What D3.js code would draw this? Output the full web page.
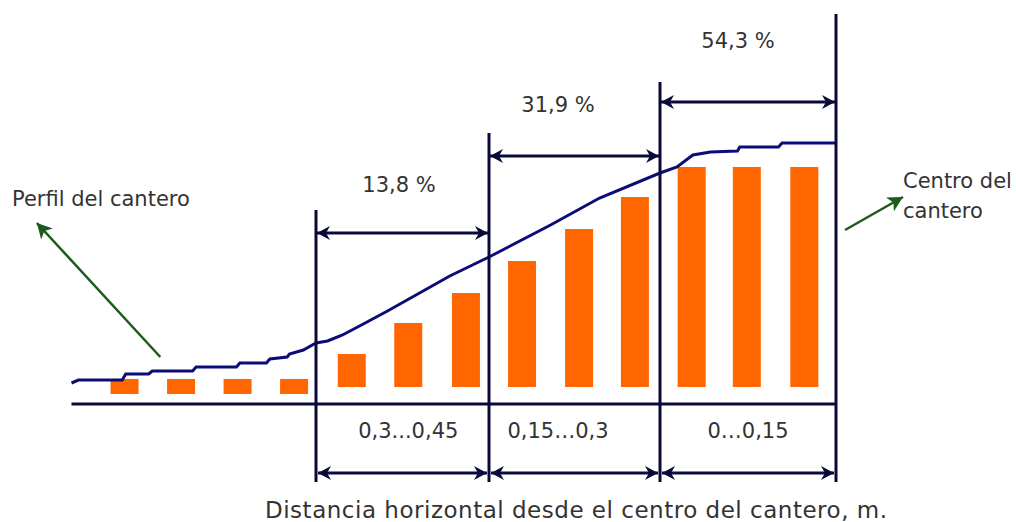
<!DOCTYPE html>
<html>
<head>
  <meta charset="utf-8">
  <script type="text/javascript" src="https://d3js.org/d3.v7.min.js"></script>
  <style>
    body { margin: 0; background: #ffffff; }
    #canvas { display: block; }
    text {
      font-family: "DejaVu Sans", Verdana, sans-serif;
      font-size: 21px;
      fill: #333333;
    }
    .axis-title { font-size: 23px; }
    .frame { fill: none; stroke: #0a0a3a; stroke-width: 3; }
    .profile { fill: none; stroke: #0c0c78; stroke-width: 3; }
    .bar { fill: #ff6600; }
    .pointer { fill: none; stroke: #1d5a1d; stroke-width: 2.5; }
  </style>
</head>
<body>
  <svg id="canvas" width="1016" height="522"></svg>
<script>
  // distances are metres from the centre of the bed, heights are relative units
  const sectionBounds = [0, 0.15, 0.3, 0.45];
  const sectionPct = ["54,3 %", "31,9 %", "13,8 %"];
  const sectionRange = ["0…0,15", "0,15…0,3", "0,3...0,45"];

  const barDist = [0.616, 0.567, 0.518, 0.469, 0.419, 0.370, 0.320, 0.271, 0.221, 0.172, 0.123, 0.076, 0.027];
  const barBase = [10, 10, 10, 10, 17, 17, 17, 17, 17, 17, 17, 17, 17];
  const barTop = [25, 25, 25, 25, 50, 81, 111, 143, 175, 207, 237, 237, 237];

  const profileDist = [0.662, 0.656, 0.618, 0.615, 0.595, 0.592, 0.557, 0.554, 0.519, 0.516, 0.493, 0.490,
                       0.475, 0.473, 0.461, 0.450, 0.440, 0.427, 0.409, 0.388, 0.334, 0.300, 0.246, 0.203,
                       0.150, 0.1355, 0.122, 0.107, 0.084, 0.082, 0.049, 0.046, 0];
  const profileHeight = [21, 24, 24, 30, 30, 33, 33, 37, 37, 41, 41, 45,
                         47, 50, 54, 61, 63, 69, 80, 93, 128, 147, 179, 206,
                         231, 237, 249, 252, 253, 257, 257, 261, 261];
  const groundStart = 0.662;

  const svg = d3.select("svg");

  const x = d3.scaleLinear()
    .domain(sectionBounds)
    .range([836, 660, 489, 316]);
  const y = d3.scaleLinear()
    .domain([0, 400])
    .range([404, 4]);

  // annotation layout, in the same units as the data
  const dividerTop = [390, 322, 271, 194];
  const dividerBottom = -78;
  const dimHeight = [302, 248, 171];
  const pctLabel = [{ d: 0.0835, h: 356 }, { d: 0.2395, h: 292 }, { d: 0.378, h: 212 }];
  const rangeLabel = [0.075, 0.2395, 0.370];
  const rangeLabelH = -34;
  const bottomDimH = -69;

  const defs = svg.append("defs");
  defs.append("marker")
      .attr("id", "dim")
      .attr("markerUnits", "userSpaceOnUse")
      .attr("viewBox", "-14 -8 15 16")
      .attr("markerWidth", 15)
      .attr("markerHeight", 16)
      .attr("refX", 0)
      .attr("refY", 0)
      .attr("orient", "auto-start-reverse")
    .append("path")
      .attr("d", "M0,0 L-13,-7 L-9,0 L-13,7 Z")
      .attr("fill", "#0a0a3a");
  defs.append("marker")
      .attr("id", "pt")
      .attr("markerUnits", "userSpaceOnUse")
      .attr("viewBox", "-16 -9 17 18")
      .attr("markerWidth", 17)
      .attr("markerHeight", 18)
      .attr("refX", 0)
      .attr("refY", 0)
      .attr("orient", "auto")
    .append("path")
      .attr("d", "M0,0 L-15,-8 L-11,0 L-15,8 Z")
      .attr("fill", "#1d5a1d");

  // bars
  svg.append("g")
    .selectAll("rect")
    .data(barDist)
    .join("rect")
      .attr("class", "bar")
      .attr("x", d => x(d) - 14)
      .attr("width", 28)
      .attr("y", (d, i) => y(barTop[i]))
      .attr("height", (d, i) => y(barBase[i]) - y(barTop[i]));

  // profile of the bed
  const line = d3.line()
    .x(d => x(d[0]))
    .y(d => y(d[1]));
  svg.append("path")
    .attr("class", "profile")
    .attr("d", line(profileDist.map((d, i) => [d, profileHeight[i]])));

  // ground line
  svg.append("line")
    .attr("class", "frame")
    .attr("x1", x(groundStart)).attr("x2", x(0))
    .attr("y1", y(0)).attr("y2", y(0));

  // section dividers
  svg.append("g")
    .selectAll("line")
    .data(sectionBounds)
    .join("line")
      .attr("class", "frame")
      .attr("x1", d => x(d)).attr("x2", d => x(d))
      .attr("y1", (d, i) => y(dividerTop[i]))
      .attr("y2", y(dividerBottom));

  const sections = d3.range(sectionPct.length);

  // top dimension arrows
  svg.append("g")
    .selectAll("line")
    .data(sections)
    .join("line")
      .attr("class", "frame")
      .attr("x1", i => x(sectionBounds[i + 1]) + 1)
      .attr("x2", i => x(sectionBounds[i]) - 1)
      .attr("y1", i => y(dimHeight[i]))
      .attr("y2", i => y(dimHeight[i]))
      .attr("marker-start", "url(#dim)")
      .attr("marker-end", "url(#dim)");

  // bottom dimension arrows
  svg.append("g")
    .selectAll("line")
    .data(sections)
    .join("line")
      .attr("class", "frame")
      .attr("x1", i => x(sectionBounds[i + 1]) + 2)
      .attr("x2", i => x(sectionBounds[i]) - 2)
      .attr("y1", y(bottomDimH))
      .attr("y2", y(bottomDimH))
      .attr("marker-start", "url(#dim)")
      .attr("marker-end", "url(#dim)");

  svg.append("g")
    .selectAll("text")
    .data(sections)
    .join("text")
      .attr("x", i => x(pctLabel[i].d))
      .attr("y", i => y(pctLabel[i].h))
      .attr("text-anchor", "middle")
      .text(i => sectionPct[i]);

  svg.append("g")
    .selectAll("text")
    .data(sections)
    .join("text")
      .attr("x", i => x(rangeLabel[i]))
      .attr("y", y(rangeLabelH))
      .attr("text-anchor", "middle")
      .text(i => sectionRange[i]);

  // pointers and their notes
  const pointers = [
    { from: [0.585, 47], to: [0.692, 181] },
    { from: [-0.0077, 174], to: [-0.0571, 207] }
  ];
  svg.append("g")
    .selectAll("line")
    .data(pointers)
    .join("line")
      .attr("class", "pointer")
      .attr("x1", d => x(d.from[0])).attr("y1", d => y(d.from[1]))
      .attr("x2", d => x(d.to[0])).attr("y2", d => y(d.to[1]))
      .attr("marker-end", "url(#pt)");

  const notes = [
    { text: "Perfil del cantero", d: 0.7136, h: 198 },
    { text: "Centro del", d: -0.0571, h: 216 },
    { text: "cantero", d: -0.0571, h: 186 }
  ];
  svg.append("g")
    .selectAll("text")
    .data(notes)
    .join("text")
      .attr("x", d => x(d.d))
      .attr("y", d => y(d.h))
      .text(d => d.text);

  svg.append("text")
    .attr("class", "axis-title")
    .attr("x", 265)
    .attr("y", 518)
    .attr("textLength", 622)
    .attr("lengthAdjust", "spacing")
    .text("Distancia horizontal desde el centro del cantero, m.");
</script>
</body>
</html>
